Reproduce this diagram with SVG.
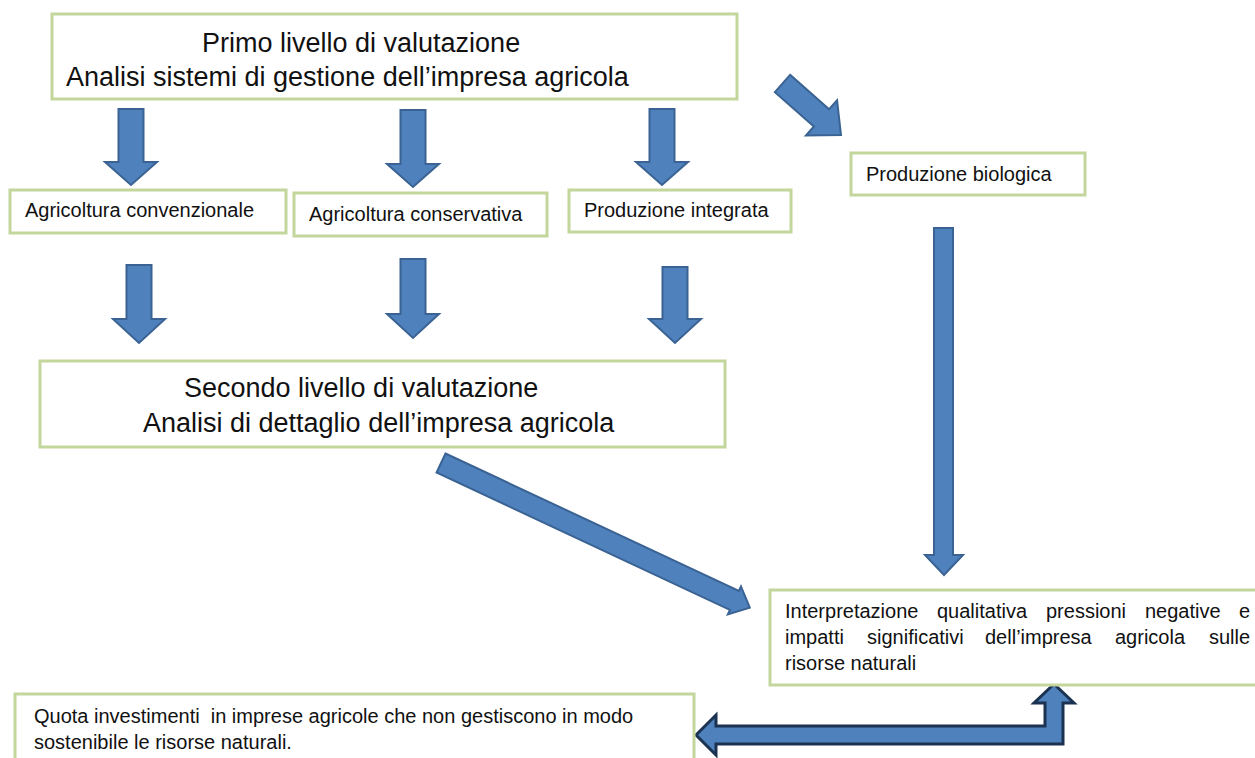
<svg xmlns="http://www.w3.org/2000/svg" width="1255" height="758" viewBox="0 0 1255 758">
<style>
.box{fill:#ffffff;stroke:#c3d69b;stroke-width:3}
.t{font-family:"Liberation Sans",Arial,sans-serif;fill:#111111}
.big{font-size:27px}
.sm{font-size:20px}
.arr{fill:#4f81bd;stroke:#3a6393;stroke-width:2;stroke-linejoin:miter}
.arr2{fill:#4f81bd;stroke:#1b3350;stroke-width:3;stroke-linejoin:miter}
</style>
<rect width="1255" height="758" fill="#ffffff"/>
<g id="connectors">
<path class="arr" d="M118.5,109 H143.5 V162 H157 L131,185 L105,162 H118.5 Z"/>
<path class="arr" d="M400.5,110 H425.5 V164 H439 L413,187 L387,164 H400.5 Z"/>
<path class="arr" d="M649.5,109 H674.5 V162 H688 L662,185 L636,162 H649.5 Z"/>
<path class="arr" d="M126.5,265 H151.5 V319 H165 L139,343 L113,319 H126.5 Z"/>
<path class="arr" d="M400.5,259 H425.5 V314 H439 L413,338 L387,314 H400.5 Z"/>
<path class="arr" d="M662.5,267 H687.5 V319 H701 L675,343 L649,319 H662.5 Z"/>
<path class="arr" transform="translate(782.5,83.5) rotate(41.4)" d="M0,-11.5 H52 V-23.5 L78,0 L52,23.5 V11.5 H0 Z"/>
<path class="arr" transform="translate(441,463) rotate(25.1)" d="M0,-10.5 H324 V-15.5 L341,0 L324,15.5 V10.5 H0 Z"/>
<path class="arr" d="M934,228 H953 V555 H963 L944,575 L925,555 H934 Z"/>
<path class="arr2" d="M696,735 L716,715 L716,726 L1045,726 L1045,703 L1034,703 L1054,684 L1074,703 L1063,703 L1063,744 L716,744 L716,755 Z"/>
</g>
<g id="primo">
<rect class="box" x="52" y="14" width="685" height="85"/>
<text class="t big" x="202" y="52">Primo livello di valutazione</text>
<text class="t big" x="66" y="86">Analisi sistemi di gestione dell’impresa agricola</text>
</g>
<g id="convenzionale">
<rect class="box" x="10" y="190" width="276" height="43"/>
<text class="t sm" x="25" y="217">Agricoltura convenzionale</text>
</g>
<g id="conservativa">
<rect class="box" x="294" y="193" width="253" height="43"/>
<text class="t sm" x="309" y="221">Agricoltura conservativa</text>
</g>
<g id="integrata">
<rect class="box" x="569" y="190" width="222" height="42"/>
<text class="t sm" x="584" y="217">Produzione integrata</text>
</g>
<g id="biologica">
<rect class="box" x="851" y="153" width="234" height="42"/>
<text class="t sm" x="866" y="181">Produzione biologica</text>
</g>
<g id="secondo">
<rect class="box" x="40" y="361" width="685" height="86"/>
<text class="t big" x="184" y="397">Secondo livello di valutazione</text>
<text class="t big" x="143" y="432">Analisi di dettaglio dell’impresa agricola</text>
</g>
<g id="interpretazione">
<rect class="box" x="770" y="590" width="488" height="95"/>
<text class="t sm" y="618"><tspan x="785">Interpretazione</tspan><tspan x="937">qualitativa</tspan><tspan x="1046">pressioni</tspan><tspan x="1145">negative</tspan><tspan x="1239">e</tspan></text>
<text class="t sm" y="644"><tspan x="785">impatti</tspan><tspan x="867">significativi</tspan><tspan x="985">dell’impresa</tspan><tspan x="1115">agricola</tspan><tspan x="1209">sulle</tspan></text>
<text class="t sm" x="785" y="670">risorse naturali</text>
</g>
<g id="quota">
<rect class="box" x="15" y="694" width="679" height="70"/>
<text class="t sm" x="34" y="723" xml:space="preserve">Quota investimenti  in imprese agricole che non gestiscono in modo</text>
<text class="t sm" x="34" y="749">sostenibile le risorse naturali.</text>
</g>
</svg>
